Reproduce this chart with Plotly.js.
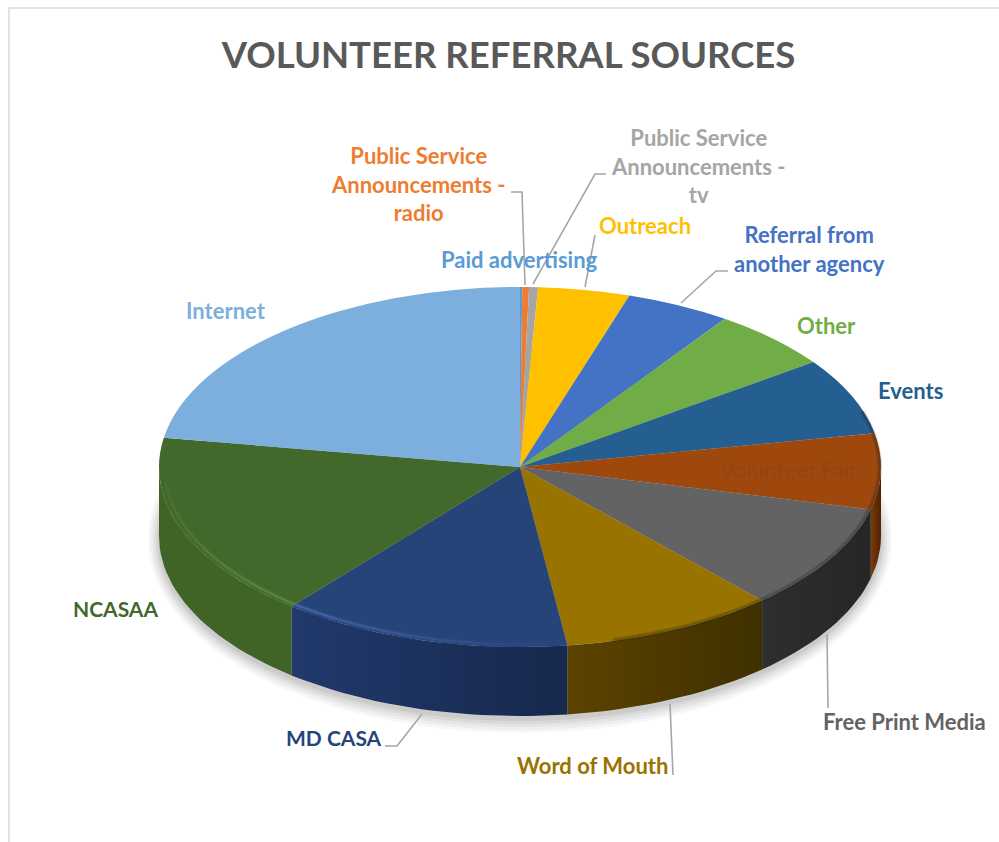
<!DOCTYPE html>
<html><head><meta charset="utf-8">
<script src="https://cdn.plot.ly/plotly-3.0.1.min.js"></script>
<style>html,body{margin:0;padding:0;background:#fff}#c{width:999px;height:842px}</style>
</head><body><div id="c"></div>
<script>
// ---- data (share of referrals, %), clockwise from 12 o'clock
const categories = ['Paid advertising','Public Service Announcements - radio','Public Service Announcements - tv','Outreach','Referral from another agency','Other','Events','Volunteer Fair','Free Print Media','Word of Mouth','MD CASA','NCASAA','Internet'];
const shares = [0.1,0.3,0.4,4.1,4.7,5.5,6.9,6.8,9.5,9.6,13.0,16.7,22.4];
// ---- styles
const topColors = ['#5b9bd5','#ed7d31','#a5a5a5','#ffc000','#4472c4','#70ad47','#255e91','#9e480e','#636363','#997300','#264478','#43682b','#7cafdd'];
const wallLeft  = ['#3b5f80','#8a4a1e','#666','#97720a','#2d4a80','#456b2b','#173a5a','#7d3a08','#2e2e2e','#5c4300','#21396c','#3f6426','#4c6d8a'];
const wallRight = ['#3b5f80','#8a4a1e','#666','#97720a','#2d4a80','#456b2b','#173a5a','#4e2203','#262626','#3e3000','#16284c','#3f6426','#4c6d8a'];
const rimColors = {10:'#5a7cc4',11:'#64a046'};
const darkRim = [6,7,8,9];
const labelLines = [
  {t:'Paid advertising',x:519,y:259,i:0,s:22},
  {t:'Public Service<br>Announcements -<br>radio',x:418,y:184,i:1,s:22},
  {t:'Public Service<br>Announcements -<br>tv',x:698,y:166,i:2,s:22},
  {t:'Outreach',x:645,y:225.5,i:3,s:22},
  {t:'Referral from<br>another agency',x:809,y:248.5,i:4,s:22},
  {t:'Other',x:826,y:325.5,i:5,s:22},
  {t:'Events',x:910,y:390.5,i:6,s:22},
  {t:'Volunteer Fair',x:788,y:469.5,i:7,s:22,c:'#93460f'},
  {t:'Free Print Media',x:904,y:721.5,i:8,s:22},
  {t:'Word of Mouth',x:592,y:765.5,i:9,s:22},
  {t:'MD CASA',x:334,y:737.5,i:10,s:21},
  {t:'NCASAA',x:115,y:608.5,i:11,s:21},
  {t:'Internet',x:226,y:310.5,i:12,s:22}
];
const leaders = [
  [[525,285],[522,192],[511,192]],
  [[533,284],[595,174],[606,174]],
  [[585,287],[595,235]],
  [[681,303],[716,271],[728,271]],
  [[827,634],[828,708]],
  [[670,704],[673,775]],
  [[422,714],[397,746],[385,746]]
];
// ---- geometry of the tilted disc (page pixels)
const CX=520, CY=467, RX=361, RY=180, DEPTH=69;
const W=999, H=842;
const pt=(deg,dy=0,f=1)=>{const r=deg*Math.PI/180;return [CX+f*RX*Math.sin(r),CY-f*RY*Math.cos(r)+dy];};
const total=shares.reduce((a,b)=>a+b,0);
let acc=0; const spans=shares.map(v=>{const a=acc/total*360;acc+=v;return [a,acc/total*360];});

function arc(a,b,dy,f=1){const n=Math.max(2,Math.ceil((b-a)/2));const o=[];for(let k=0;k<=n;k++)o.push(pt(a+(b-a)*k/n,dy,f));return o;}

const traces=[];
// soft shadow under the disc
[[14,0.03],[11,0.035],[8,0.04],[5,0.05],[2,0.06]].forEach(([g,op])=>{
  const xs=[],ys=[];
  for(let d=0;d<=360;d+=4){const r=d*Math.PI/180;xs.push(CX+(RX+g*0.8)*Math.sin(r));ys.push(CY+DEPTH+3-(RY+g)*Math.cos(r));}
  traces.push({type:'scatter',mode:'lines',x:xs,y:ys,fill:'toself',fillcolor:'rgba(0,0,0,'+op+')',line:{width:0},hoverinfo:'skip',showlegend:false});
});
// side wall of each slice on the visible half
spans.forEach(([a,b],i)=>{
  const s=Math.max(a,90),e=Math.min(b,270);
  if(e<=s) return;
  const poly=arc(s,e,0).concat(arc(s,e,DEPTH).reverse());
  poly.push(poly[0]);
  traces.push({type:'scatter',mode:'lines',x:poly.map(p=>p[0]),y:poly.map(p=>p[1]),fill:'toself',
    fillcolor:wallLeft[i],
    fillgradient:{type:'horizontal',colorscale:[[0,wallLeft[i]],[1,wallRight[i]]]},
    line:{width:0},hoverinfo:'skip',showlegend:false});
});
// leader lines
leaders.forEach(l=>traces.push({type:'scatter',mode:'lines',x:l.map(p=>p[0]),y:l.map(p=>p[1]),line:{color:'#a6a6a6',width:1.6},hoverinfo:'skip',showlegend:false}));
// top face
traces.push({type:'pie',labels:categories,values:shares,sort:false,direction:'clockwise',rotation:0,
  marker:{colors:topColors,line:{width:0}},textinfo:'none',hoverinfo:'label+percent',showlegend:false,
  domain:{x:[(CX-RX)/W,(CX+RX)/W],y:[1-(CY+RX)/H,1-(CY-RX)/H]}});

const pathOf=(pts)=>'M'+pts.map(q=>q[0].toFixed(1)+','+q[1].toFixed(1)).join(' L');
const shapes=[{type:'path',path:'M9,842 L9,8 L999,8',line:{color:'#e2e2e2',width:2},xref:'x',yref:'y',layer:'below'}];
// soft rim: a light band on the front-left edge that fades out at both ends
const fade=t=>t<222?Math.max(0,(t-172)/50):Math.max(0,(272-t)/50);
spans.forEach(([a,b],i)=>{
  if(rimColors[i]){
    for(let s=Math.max(a,172);s<Math.min(b,272);s+=3){
      const e=Math.min(s+3,b), o=fade(s+1.5);
      [[4.5,0.2],[2,0.5]].forEach(([w,op])=>shapes.push({type:'path',path:pathOf(arc(s,e,0,0.985)),line:{color:rimColors[i],width:w},opacity:op*o,xref:'x',yref:'y',layer:'above'}));
    }
  }
  if(darkRim.includes(i)){
    const s=Math.max(a,72),e=Math.min(b,165);
    if(e>s)[[5,0.12],[2.5,0.2]].forEach(([w,op])=>shapes.push({type:'path',path:pathOf(arc(s,e,0,0.996)),line:{color:'#1a1a1a',width:w},opacity:op,xref:'x',yref:'y',layer:'above'}));
  }
});

const annotations=labelLines.map(l=>({x:l.x,y:l.y,xref:'x',yref:'y',text:l.t,showarrow:false,xanchor:'center',yanchor:'middle',align:'center',
  font:{family:'Lato, sans-serif',size:l.s,weight:700,color:l.c||topColors[l.i]}}));

const layout={width:W,height:H,margin:{l:0,r:0,t:0,b:0},paper_bgcolor:'#fff',plot_bgcolor:'#fff',showlegend:false,
  title:{text:'<b>VOLUNTEER REFERRAL SOURCES</b>',x:508.5/W,xanchor:'center',y:1-55/H,yanchor:'middle',font:{family:'Lato, sans-serif',size:36.5,color:'#595959'}},
  xaxis:{range:[0,W],visible:false,fixedrange:true},
  yaxis:{range:[H,0],visible:false,fixedrange:true},
  shapes,annotations};

const squash=()=>{const g=document.querySelector('#c .pielayer');if(g){const k=RY/RX;g.setAttribute('transform','translate(0,'+(CY*(1-k))+') scale(1,'+k+')');}};
Plotly.newPlot('c',traces,layout,{displayModeBar:false}).then(()=>{squash();document.getElementById('c').on('plotly_afterplot',squash);});
</script></body></html>
